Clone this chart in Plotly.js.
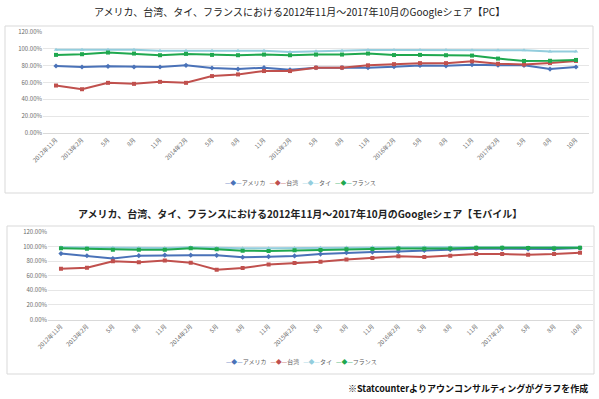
<!DOCTYPE html>
<html><head><meta charset="utf-8">
<script src="https://cdn.plot.ly/plotly-3.0.1.min.js"></script>
<style>html,body{margin:0;padding:0;background:#fff;}#chart{width:599px;height:399px;}</style>
</head><body><div id="chart"></div>
<script>
const months = ["2012年11月","2013年2月","5月","8月","11月","2014年2月","5月","8月","11月","2015年2月","5月","8月","11月","2016年2月","5月","8月","11月","2017年2月","5月","8月","10月"];
const seriesNames = ["アメリカ","台湾","タイ","フランス"];
const seriesColors = ["#4a72b8","#c0504d","#93cddd","#1fa84f"];

// PC share (%)
const pcUSA    = [79.6,78.4,79.2,78.4,78.4,80.4,77.2,76.0,77.6,75.0,77.6,77.6,77.6,78.8,80.2,79.8,81.2,80.6,80.4,76.0,78.4];
const pcTaiwan = [56.4,52.0,59.6,58.4,60.8,59.6,67.6,69.6,73.6,73.6,77.6,77.6,80.4,81.8,83.0,83.0,85.2,82.2,81.4,83.2,85.6];
const pcThai   = [99.0,98.8,99.0,99.0,97.6,97.6,97.6,97.6,97.6,96.2,97.2,97.8,98.6,98.6,98.6,98.6,98.4,98.4,98.2,96.8,96.8];
const pcFrance = [92.8,93.6,95.6,94.4,92.4,94.0,92.8,92.4,93.2,92.4,93.2,93.2,94.4,92.6,92.8,92.4,92.0,88.4,85.6,85.8,86.8];

// Mobile share (%)
const mbUSA    = [90.4,87.4,83.6,87.6,88.4,88.2,88.0,85.4,86.2,87.2,89.7,91.6,92.5,93.4,94.8,95.7,97.0,97.0,96.6,96.6,97.9];
const mbTaiwan = [69.5,71.1,79.8,78.5,80.8,78.0,68.2,70.5,75.6,77.4,79.2,82.4,84.2,86.6,85.7,87.5,89.7,89.7,88.9,89.7,91.6];
const mbThai   = [99.2,98.8,98.4,98.0,98.0,99.0,98.0,97.8,97.6,98.0,98.4,98.8,99.0,99.2,99.2,99.2,99.4,99.4,99.2,99.2,99.2];
const mbFrance = [97.8,97.0,95.8,95.6,95.8,97.8,96.2,94.4,94.0,94.9,95.2,96.2,96.6,97.5,97.2,97.4,98.5,98.5,98.0,97.5,98.5];

const yTicks = [0,20,40,60,80,100,120];
const yTickLabels = ["0.00%","20.00%","40.00%","60.00%","80.00%","100.00%","120.00%"];

const W = 599, H = 399;
const px = v => v / W;
const py = v => 1 - v / H;
const jp = '"Noto Sans CJK JP", "Noto Sans", sans-serif';

const pcData = [pcUSA, pcTaiwan, pcThai, pcFrance];
const mbData = [mbUSA, mbTaiwan, mbThai, mbFrance];
const symbols = ["diamond","square","triangle-up","square"];
const drawOrder = [2,0,1,3];

const traces = [];
[[pcData,'x','y'],[mbData,'x2','y2']].forEach(([data,xa,ya]) => {
  drawOrder.forEach(i => {
    traces.push({x: months.map((m,k)=>k), y: data[i], name: seriesNames[i], type: 'scatter', mode: 'lines+markers',
      line: {color: seriesColors[i], width: 2}, marker: {color: seriesColors[i], size: 4, symbol: symbols[i]},
      xaxis: xa, yaxis: ya, showlegend: false});
  });
});

const xAxisBase = {
  type: 'linear', range: [-0.5, months.length - 0.5], tickmode: 'array',
  tickvals: months.map((m,k)=>k), ticktext: months, tickangle: -45,
  tickfont: {family: jp, size: 6, color: '#6b6b6b'}, showgrid: false, zeroline: false,
  showline: true, linecolor: '#d9d9d9', linewidth: 1, ticks: '', fixedrange: true
};
const yAxisBase = {
  range: [0, 120], tickmode: 'array', tickvals: yTicks, ticktext: yTickLabels,
  tickfont: {family: jp, size: 6, color: '#6b6b6b'}, showgrid: true, gridcolor: '#e6e6e6', gridwidth: 1,
  zeroline: false, showline: false, ticks: '', fixedrange: true
};

const legendText = seriesNames.map((n,i) =>
  '<span style="color:' + seriesColors[i] + '">—◆—</span>' + n).join('&nbsp;&nbsp;&nbsp;');

const layout = {
  width: W, height: H, margin: {l:0, r:0, t:0, b:0},
  paper_bgcolor: '#ffffff', plot_bgcolor: '#ffffff', showlegend: false,
  xaxis: Object.assign({}, xAxisBase, {domain: [px(43), px(589)], anchor: 'y'}),
  yaxis: Object.assign({}, yAxisBase, {domain: [py(133), py(32)], anchor: 'x'}),
  xaxis2: Object.assign({}, xAxisBase, {domain: [px(48), px(593)], anchor: 'y2'}),
  yaxis2: Object.assign({}, yAxisBase, {domain: [py(319.5), py(232)], anchor: 'x2'}),
  shapes: [
    {type: 'rect', xref: 'paper', yref: 'paper', x0: px(5), x1: px(593), y0: py(193), y1: py(26), line: {color: '#d9d9d9', width: 1}, layer: 'below'},
    {type: 'rect', xref: 'paper', yref: 'paper', x0: px(7), x1: px(594), y0: py(374), y1: py(226), line: {color: '#d9d9d9', width: 1}, layer: 'below'}
  ],
  annotations: [
    {text: 'アメリカ、台湾、タイ、フランスにおける2012年11月～2017年10月のGoogleシェア【PC】', xref: 'paper', yref: 'paper',
     x: 0.5, y: py(11), xanchor: 'center', yanchor: 'middle', showarrow: false, font: {family: jp, size: 10, color: '#222'}},
    {text: '<b>アメリカ、台湾、タイ、フランスにおける2012年11月～2017年10月のGoogleシェア【モバイル】</b>', xref: 'paper', yref: 'paper',
     x: 0.5, y: py(213), xanchor: 'center', yanchor: 'middle', showarrow: false, font: {family: jp, size: 10, color: '#222'}},
    {text: '<b>※Statcounterよりアウンコンサルティングがグラフを作成</b>', xref: 'paper', yref: 'paper',
     x: px(590), y: py(388), xanchor: 'right', yanchor: 'middle', showarrow: false, font: {family: jp, size: 9, color: '#111'}},
    {text: legendText, xref: 'paper', yref: 'paper', x: px(300), y: py(182), xanchor: 'center', yanchor: 'middle',
     showarrow: false, font: {family: jp, size: 6, color: '#595959'}},
    {text: legendText, xref: 'paper', yref: 'paper', x: px(301), y: py(361), xanchor: 'center', yanchor: 'middle',
     showarrow: false, font: {family: jp, size: 6, color: '#595959'}}
  ]
};

Plotly.newPlot('chart', traces, layout, {displayModeBar: false, staticPlot: true});
</script></body></html>
